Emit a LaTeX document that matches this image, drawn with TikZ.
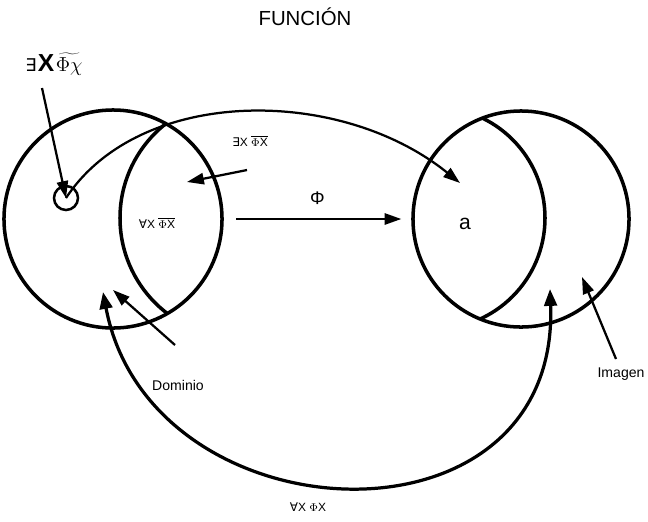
\documentclass[tikz,border=0pt]{standalone}
\usepackage{fontspec}
\setmainfont{Liberation Sans}
\newfontfamily\symfont{DejaVu Sans}
\usetikzlibrary{arrows.meta}

\begin{document}
\begin{tikzpicture}[
    x=0.025cm, y=-0.025cm,
    myset/.style={draw, circle, inner sep=0pt, line width=2.5pt},
    mylens/.style={line width=2.5pt},
    myptr/.style={line width=1.6pt, -{Triangle[length=12pt, width=8pt]}},
    mybig/.style={line width=2.3pt, {Triangle[length=12pt, width=9pt]}-{Triangle[length=12pt, width=9pt]}},
    mylabel/.style={font=\fontsize{10}{12}\selectfont},
    mysmall/.style={font=\fontsize{8.5}{10}\selectfont}
]
    \useasboundingbox (0,0) rectangle (648,521);

    % Title
    \node[font=\fontsize{14.5}{16}\selectfont] (title) at (305,17) {FUNCIÓN};

    % Domain and image sets
    \node[myset, minimum size=5.45cm] (dom) at (113,219) {};
    \node[myset, minimum size=5.4cm] (img) at (521,219) {};
    \begin{scope}
        \clip (113,219) circle (109);
        \draw[mylens] (240,218) circle (120);
    \end{scope}
    \begin{scope}
        \clip (521,219) circle (108);
        \draw[mylens] (434,218) circle (111);
    \end{scope}

    % Single element
    \node[draw, circle, inner sep=0pt, line width=1.8pt, minimum size=0.6cm] (elem) at (66,198) {};

    % Labels
    \node[font=\fontsize{13.5}{15}\selectfont] (exq) at (54,64)
        {{\symfont\fontsize{12.5}{14}\selectfont ∃}\kern1pt{\fontsize{17.5}{18}\selectfont\bfseries X}\kern1pt$\widetilde{\Phi\chi}$};
    \node[mysmall] (exlens) at (250,141) {{\symfont ∃}X \(\overline{\hbox{$\Phi$X}}\)};
    \node[mysmall] (alllens) at (157,223) {{\symfont ∀}X \(\overline{\hbox{$\Phi$X}}\)};
    \node[mysmall] (allbot) at (308,507) {{\symfont ∀}X $\Phi$X};
    \node[font=\fontsize{15}{16}\selectfont] (a) at (465,224) {a};
    \node[mylabel] (domlbl) at (178,385) {Dominio};
    \node[mylabel] (imglbl) at (621,374) {Imagen};

    % Free ends
    \coordinate (exfoot) at (42,88);
    \coordinate (lensfoot) at (247,170);
    \coordinate (lenstip) at (187,182);
    \coordinate (atip) at (460,183);
    \coordinate (domfoot) at (175,345);
    \coordinate (domtip) at (113,290);
    \coordinate (imgfoot) at (616,359);
    \coordinate (imgtip) at (582,277);
    \coordinate (botl) at (103,292);
    \coordinate (botr) at (550,289);

    % Arrows
    \draw[myptr] (exfoot) -- (elem.center);
    \draw[myptr] (elem.center) .. controls (140,86) and (340,86) .. (atip);
    \draw[myptr] (lensfoot) -- (lenstip);
    \draw[myptr, shorten <=9pt, shorten >=7pt] (dom.east) -- node[above=6pt, font=\fontsize{13}{14}\selectfont] (phi) {Φ} (img.west);
    \draw[myptr] (domfoot) -- (domtip);
    \draw[myptr] (imgfoot) -- (imgtip);
    \draw[mybig] (botl) .. controls (150,540) and (560,560) .. (botr);
\end{tikzpicture}
\end{document}
